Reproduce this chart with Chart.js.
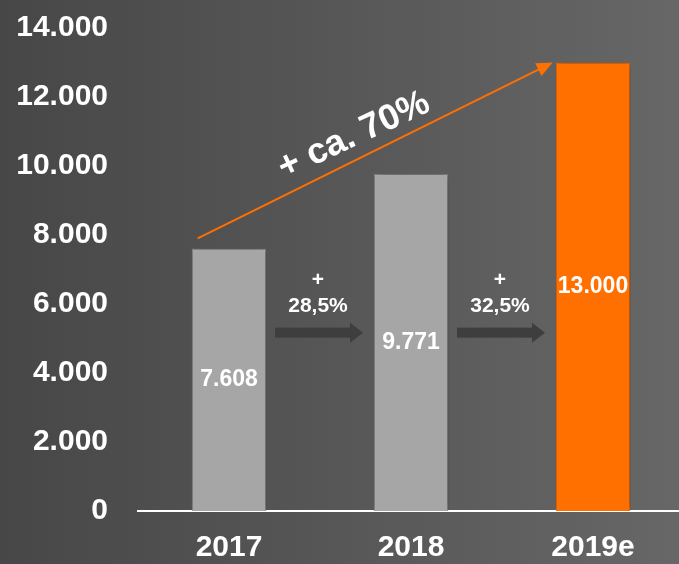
<!DOCTYPE html>
<html>
<head>
<meta charset="utf-8">
<script src="https://cdn.jsdelivr.net/npm/chart.js@4"></script>
<style>
  html, body { margin: 0; padding: 0; overflow: hidden; background: #4a4a4a; }
  #wrap { width: 684px; height: 576px; margin-top: -12px; }
</style>
</head>
<body>
<div id="wrap"><canvas id="myChart"></canvas></div>
<script>
const labels = ['2017', '2018', '2019e'];
const umsatz = [7608, 9771, 13000];
const barColors = ['#a6a6a6', '#a6a6a6', '#ff7000'];
const growthLabels = ['28,5%', '32,5%'];
const totalGrowth = '+ ca. 70%';

const FONT = "'Liberation Sans', Arial, sans-serif";

function fmt(v) {
  return String(v).replace(/\B(?=(\d{3})+(?!\d))/g, '.');
}

// hintergrund verlauf
const bgPlugin = {
  id: 'bg',
  beforeDraw(chart) {
    const ctx = chart.ctx;
    const g = ctx.createLinearGradient(0, 0, chart.width, 0);
    g.addColorStop(0, '#474747');
    g.addColorStop(1, '#676767');
    ctx.save();
    ctx.fillStyle = g;
    ctx.fillRect(0, 0, chart.width, chart.height);
    ctx.restore();
  },
  beforeDatasetsDraw(chart) {
    const ctx = chart.ctx;
    ctx.save();
    ctx.shadowColor = 'rgba(0,0,0,0.45)';
    ctx.shadowBlur = 10;
    ctx.shadowOffsetX = 2;
    ctx.shadowOffsetY = 0;
  },
  afterDatasetsDraw(chart) {
    chart.ctx.restore();
  }
};

// werte, pfeile, texte
const notesPlugin = {
  id: 'notes',
  afterDatasetsDraw(chart) {
    const ctx = chart.ctx;
    const y = chart.scales.y;
    const bars = chart.getDatasetMeta(0).data;

    ctx.save();
    ctx.fillStyle = '#ffffff';
    ctx.textAlign = 'center';
    ctx.textBaseline = 'middle';
    ctx.font = 'bold 23px ' + FONT;
    bars.forEach((b, i) => {
      ctx.fillText(fmt(umsatz[i]), b.x, (b.y + b.base) / 2);
    });

    // kleine pfeile zwischen den balken
    for (let i = 0; i < growthLabels.length; i++) {
      const mid = (bars[i].x + bars[i + 1].x) / 2;
      const ay = y.getPixelForValue(5170);
      const x0 = mid - 45, x1 = mid + 43;
      ctx.fillStyle = '#3e3e3e';
      ctx.fillRect(x0, ay - 5, x1 - x0 - 12, 10);
      ctx.beginPath();
      ctx.moveTo(x1 - 13, ay - 10);
      ctx.lineTo(x1, ay);
      ctx.lineTo(x1 - 13, ay + 10);
      ctx.closePath();
      ctx.fill();

      ctx.fillStyle = '#ffffff';
      ctx.font = 'bold 21px ' + FONT;
      ctx.fillText('+', mid - 2, y.getPixelForValue(6700));
      ctx.fillText(growthLabels[i], mid - 2, y.getPixelForValue(5930));
    }

    // orange linie
    const sx = bars[0].x - bars[0].width / 2 + 6;
    const sy = y.getPixelForValue(7900);
    const ex = bars[2].x - bars[2].width / 2 - 3;
    const ey = y.getPixelForValue(13000);
    const ang = Math.atan2(ey - sy, ex - sx);
    ctx.strokeStyle = '#ff7000';
    ctx.fillStyle = '#ff7000';
    ctx.lineWidth = 2;
    ctx.beginPath();
    ctx.moveTo(sx, sy);
    ctx.lineTo(ex - 12 * Math.cos(ang), ey - 12 * Math.sin(ang));
    ctx.stroke();
    ctx.save();
    ctx.translate(ex, ey);
    ctx.rotate(ang);
    ctx.beginPath();
    ctx.moveTo(0, 0);
    ctx.lineTo(-16, -7);
    ctx.lineTo(-16, 7);
    ctx.closePath();
    ctx.fill();
    ctx.restore();

    // gedrehter text
    ctx.save();
    ctx.translate(354, y.getPixelForValue(10880));
    ctx.rotate(-25 * Math.PI / 180);
    ctx.fillStyle = '#ffffff';
    ctx.font = 'bold 36px ' + FONT;
    ctx.fillText(totalGrowth, 0, 0);
    ctx.restore();

    ctx.restore();
  }
};

const data = {
  labels: labels,
  datasets: [{
    data: umsatz,
    backgroundColor: barColors,
    borderColor: ['#8c8c8c', '#8c8c8c', '#ff7000'],
    borderWidth: 1,
    categoryPercentage: 1,
    barPercentage: 0.41
  }]
};

const config = {
  type: 'bar',
  data: data,
  plugins: [bgPlugin, notesPlugin],
  options: {
    responsive: true,
    maintainAspectRatio: false,
    animation: false,
    layout: { padding: { top: 10, left: 0, right: 0, bottom: 0 } },
    plugins: {
      legend: { display: false },
      tooltip: { enabled: false }
    },
    scales: {
      x: {
        grid: { display: false },
        border: { display: true, color: '#ffffff', width: 2 },
        ticks: {
          color: '#ffffff',
          padding: 11,
          font: { family: FONT, size: 30, weight: 'bold' }
        },
        afterFit(s) { s.height = 53; }
      },
      y: {
        min: 0,
        max: 14000,
        grid: { display: false },
        border: { display: false },
        ticks: {
          stepSize: 2000,
          color: '#ffffff',
          padding: 22,
          font: { family: FONT, size: 30, weight: 'bold' },
          callback: (v) => fmt(v)
        },
        afterFit(s) { s.width = 138; }
      }
    }
  }
};

const myChart = new Chart(document.getElementById('myChart'), config);
</script>
</body>
</html>
